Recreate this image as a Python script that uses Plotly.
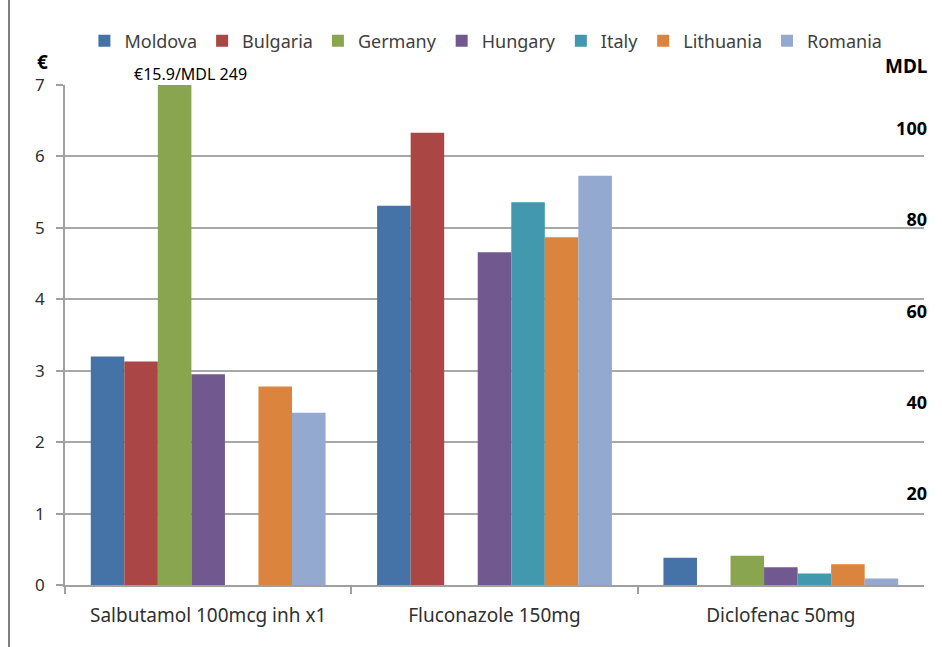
import plotly.graph_objects as go

categories = ["Salbutamol 100mcg inh x1", "Fluconazole 150mg", "Diclofenac 50mg"]
countries = ["Moldova", "Bulgaria", "Germany", "Hungary", "Italy", "Lithuania", "Romania"]
moldova = [3.2, 5.31, 0.38]
bulgaria = [3.13, 6.33, None]
germany = [15.9, None, 0.41]
hungary = [2.95, 4.66, 0.25]
italy = [None, 5.36, 0.16]
lithuania = [2.78, 4.87, 0.29]
romania = [2.41, 5.73, 0.09]
series = [moldova, bulgaria, germany, hungary, italy, lithuania, romania]
colors = ["#4572a7", "#aa4643", "#89a54e", "#71588f", "#4198af", "#db843d", "#93a9cf"]

eur_ticks = [0, 1, 2, 3, 4, 5, 6, 7]
mdl_ticks = [20, 40, 60, 80, 100]
mdl_per_eur = 249 / 15.9
note = "€15.9/MDL 249"

fig = go.Figure()
for name, vals, c in zip(countries, series, colors):
    fig.add_trace(go.Bar(x=categories, y=vals, name=name, marker_color=c,
                         marker_line_width=0))
# invisible trace for secondary MDL axis
fig.add_trace(go.Scatter(x=categories, y=[None, None, None], yaxis="y2",
                         showlegend=False, hoverinfo="skip"))

font = "Noto Sans"
fig.update_layout(
    width=942, height=647,
    margin=dict(l=65, r=18, t=85, b=62, autoexpand=False),
    paper_bgcolor="white", plot_bgcolor="white",
    barmode="group", bargap=0.18, bargroupgap=0,
    font=dict(family=font, size=15, color="#404040"),
    legend=dict(orientation="h", x=0.49, xanchor="center", y=1.088, yanchor="middle",
                font=dict(size=18, color="#404040"), itemwidth=30,
                traceorder="normal"),
    xaxis=dict(range=[-0.5, len(categories) - 0.5], showline=True, linecolor="#a0a0a0",
               linewidth=1.5, ticks="outside", tickson="boundaries", ticklen=7,
               tickcolor="#a0a0a0", tickwidth=1.5,
               tickfont=dict(size=19, color="#303030"), ticklabelstandoff=12),
    yaxis=dict(range=[0, 7], tickvals=eur_ticks, showline=True, linecolor="#a0a0a0",
               linewidth=1.5, ticks="outside", ticklen=7, tickcolor="#a0a0a0", tickwidth=1.5,
               showgrid=True, gridcolor="#a8a8a8", gridwidth=1.5, zeroline=False,
               tickfont=dict(size=17, color="#303030"), ticklabelstandoff=8),
    yaxis2=dict(overlaying="y", side="right", range=[0, 7 * mdl_per_eur],
                tickvals=mdl_ticks, showgrid=False, showline=False, zeroline=False,
                ticklabelposition="inside", ticks="", automargin=False,
                ticklabelstandoff=-6,
                tickfont=dict(size=18, color="black", family=font, weight="bold")),
)

fig.add_annotation(text="€", xref="paper", yref="paper", x=(42 - 65) / 859, y=(585 - 62) / 500,
                   showarrow=False, font=dict(size=19, color="black", weight="bold"),
                   xanchor="center", yanchor="middle")
fig.add_annotation(text="MDL", xref="paper", yref="paper", x=(930 - 65) / 859, y=(585 - 66) / 500,
                   showarrow=False, font=dict(size=19, color="black", weight="bold"),
                   xanchor="right", yanchor="middle")
fig.add_annotation(text=note, xref="x", yref="paper", x=categories[0], xshift=-18,
                   y=(585 - 74) / 500, showarrow=False,
                   font=dict(size=16, color="black"), xanchor="center", yanchor="middle")
fig.add_shape(type="line", xref="paper", yref="paper", x0=(9 - 65) / 859, x1=(9 - 65) / 859,
              y0=-62 / 500, y1=(647 - 62) / 500, line=dict(color="black", width=1))

fig.write_html("out.html")
